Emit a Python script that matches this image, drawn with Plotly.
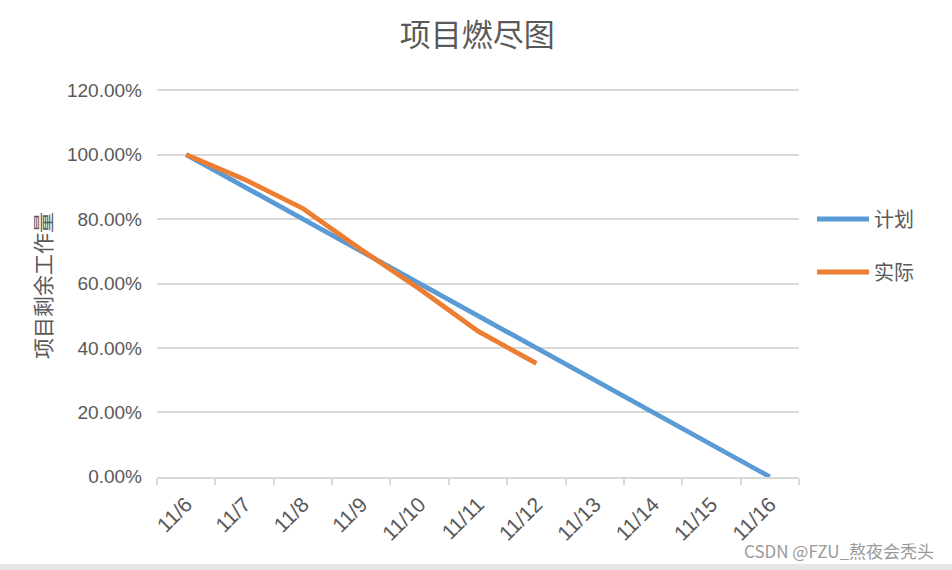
import plotly.graph_objects as go

categories = ["11/6", "11/7", "11/8", "11/9", "11/10", "11/11", "11/12", "11/13", "11/14", "11/15", "11/16"]
plan = [1.0, 0.9, 0.8, 0.7, 0.6, 0.5, 0.4, 0.3, 0.2, 0.1, 0.0]
actual = [1.0, 0.923, 0.833, 0.705, 0.583, 0.452, 0.352]
actual_dates = categories[:len(actual)]
y_ticks = [0, 0.2, 0.4, 0.6, 0.8, 1.0, 1.2]

TXT = "#595959"
GRID = "#d9d9d9"
LAT = "Liberation Sans, Noto Sans CJK SC, sans-serif"
CJK = "Noto Sans CJK SC, sans-serif"

fig = go.Figure()
fig.add_trace(go.Scatter(x=categories, y=plan, mode="lines", name="计划",
                         legendgroup="a",
                         line=dict(color="#5B9BD5", width=4.8)))
fig.add_trace(go.Scatter(x=actual_dates, y=actual, mode="lines", name="实际",
                         legendgroup="b",
                         line=dict(color="#ED7D31", width=4.8)))

W, H = 952, 570
L, R, T, B = 157, 799, 87, 477
fig.update_layout(
    width=W, height=H,
    margin=dict(l=L, r=W - R, t=T, b=H - B),
    paper_bgcolor="white", plot_bgcolor="white",
    title=dict(text="项目燃尽图", x=(475 - 0) / W, xanchor="center", xref="paper",
               y=1 - 35 / H, yanchor="middle", yref="container",
               font=dict(family=CJK, size=31, color=TXT)),
    showlegend=True,
    legend=dict(x=(812 - L) / (R - L), xanchor="left", y=(B - 245.5) / (B - T), yanchor="middle",
                font=dict(family=CJK, size=20, color=TXT), tracegroupgap=24,
                itemwidth=52, bgcolor="rgba(0,0,0,0)"),
    xaxis=dict(type="category", categoryorder="array", categoryarray=categories,
               range=[-0.5, len(categories) - 0.5],
               showgrid=False, showline=True, linecolor=GRID, linewidth=1.5,
               ticks="outside", tickson="boundaries", ticklen=6, tickcolor=GRID, tickwidth=1.5,
               tickangle=-45, ticklabelstandoff=5,
               tickfont=dict(family=LAT, size=21, color=TXT)),
    yaxis=dict(range=[-0.0005, 1.21], tickvals=y_ticks, tickformat=".2%",
               showgrid=True, gridcolor=GRID, gridwidth=1.5, zeroline=False,
               showline=False, ticks="", ticklabelstandoff=14,
               tickfont=dict(family=LAT, size=19, color=TXT)),
    annotations=[
        dict(text="项目剩余工作量", textangle=-90, xref="paper", yref="paper",
             x=(42 - L) / (R - L), y=(B - 286) / (B - T), xanchor="center", yanchor="middle",
             showarrow=False, font=dict(family=CJK, size=21, color=TXT)),
        dict(text="CSDN @FZU_熬夜会秃头", xref="paper", yref="paper",
             x=(936 - L) / (R - L), y=(B - 550) / (B - T), xanchor="right", yanchor="middle",
             showarrow=False, font=dict(family=CJK, size=17, color="#9a9a9a")),
    ],
    shapes=[
        dict(type="rect", xref="paper", yref="paper",
             x0=-L / (R - L), x1=(W - L) / (R - L),
             y0=(B - H) / (B - T), y1=(B - 564) / (B - T),
             fillcolor="#e6e6e6", line=dict(width=0), layer="below"),
    ],
)

fig.write_html("out.html")
